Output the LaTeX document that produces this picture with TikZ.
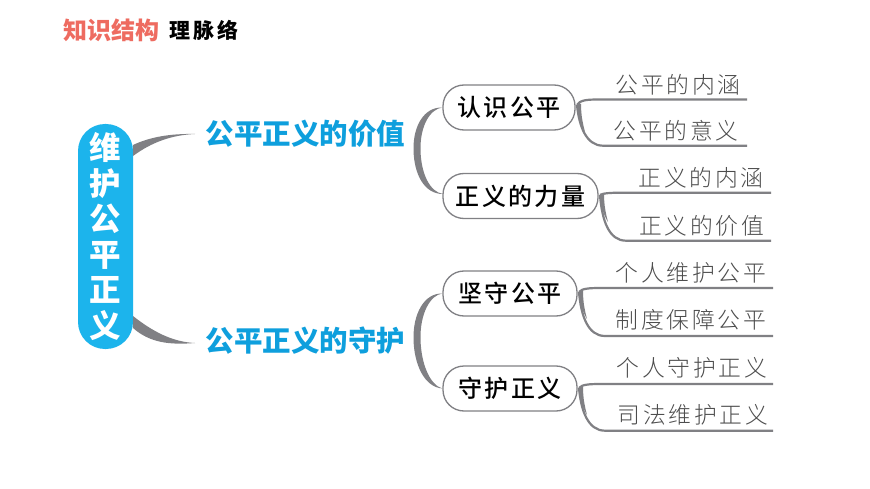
\documentclass[tikz,border=0pt]{standalone}
\usepackage{fontspec}
\newfontfamily\cjk{Noto Sans CJK SC}
\newfontfamily\cjkleaf[UprightFont={* Light},LetterSpace=12]{Noto Sans CJK SC}
\newfontfamily\cjknodeb[UprightFont={* Medium},LetterSpace=10]{Noto Sans CJK SC}
\newfontfamily\cjksub[LetterSpace=14]{Noto Sans CJK SC}
\definecolor{rootblue}{HTML}{1CB4EC}
\definecolor{headblue}{HTML}{0E9FDD}
\definecolor{branchgrey}{HTML}{808084}
\definecolor{salmon}{HTML}{EE6B60}
\tikzset{
  rootbox/.style={fill=rootblue,text=white,rounded corners=27pt,minimum width=55pt,minimum height=225pt,inner sep=0pt,align=center,font=\cjk\bfseries\fontsize{31.5}{35.6}\selectfont},
  headtext/.style={text=headblue,inner sep=0pt,font=\cjk\bfseries\fontsize{28.5}{32}\selectfont},
  topicbox/.style={draw=branchgrey,line width=1.3pt,fill=white,rounded corners=21pt,minimum height=45pt,inner sep=0pt,text=black,font=\cjknodeb\fontsize{24}{26}\selectfont},
  leaftext/.style={text=black!70,inner sep=0pt,font=\cjkleaf\fontsize{22.8}{26}\selectfont},
  taper/.style={fill=branchgrey,draw=none},
  leafline/.style={draw=branchgrey,line width=2.2pt,line cap=butt},
}
\begin{document}
\begin{tikzpicture}[x=1pt,y=-1pt]
\useasboundingbox (0,0) rectangle (870,489);
\fill[white] (0,0) rectangle (870,489);
\node[text=salmon,inner sep=0pt,font=\cjk\bfseries\fontsize{24}{28}\selectfont] (title) at (111,30) {知识结构};
\node[text=black,inner sep=0pt,font=\cjksub\bfseries\fontsize{21}{24}\selectfont] (sub) at (204,30) {理脉络};
\node[rootbox] (root) at (105.5,236.5) {维\\护\\公\\平\\正\\义};
\node[headtext] (h1) at (305.5,134) {公平正义的价值};
\node[headtext] (h2) at (305.5,341) {公平正义的守护};
\node[topicbox,minimum width=132pt] (n1) at (509,107.5) {认识公平};
\node[topicbox,minimum width=155pt] (n2) at (520.5,196) {正义的力量};
\node[topicbox,minimum width=134pt] (n3) at (510,293.5) {坚守公平};
\node[topicbox,minimum width=134pt] (n4) at (510,388.5) {守护正义};
\node[leaftext] (a1) at (678,85) {公平的内涵};
\node[leaftext] (a2) at (676,131) {公平的意义};
\node[leaftext] (b1) at (701,178) {正义的内涵};
\node[leaftext] (b2) at (701.5,226) {正义的价值};
\node[leaftext] (c1) at (691,273) {个人维护公平};
\node[leaftext] (c2) at (691,320) {制度保障公平};
\node[leaftext] (d1) at (692,368) {个人守护正义};
\node[leaftext] (d2) at (693,415) {司法维护正义};
\coordinate (a1e) at (747,99.5); \coordinate (a2e) at (747,145.7);
\coordinate (b1e) at (771,192.7); \coordinate (b2e) at (771,240.7);
\coordinate (c1e) at (773,288); \coordinate (c2e) at (773,336);
\coordinate (d1e) at (773,384); \coordinate (d2e) at (773,430.7);
\coordinate (h1w) at (195,134); \coordinate (h2w) at (195,343);
% root to heads
\fill[taper] (133,145) .. controls (150,137) and (170,133.5) .. (h1w) .. controls (172,135) and (152,142) .. (133,156) -- cycle;
\fill[taper] (133,316) .. controls (152,331) and (172,342) .. (h2w) .. controls (170,345) and (150,343) .. (133,328) -- cycle;
% heads to topics
\fill[taper] (n1.west) .. controls (424,107) and (413,126) .. (413.5,150) .. controls (414,174) and (424,194) .. (443,194) .. controls (430,192) and (421,174) .. (420.5,150) .. controls (420,126) and (430,109) .. (n1.west) -- cycle;
\fill[taper] (n3.west) .. controls (424,293) and (413,314) .. (413.5,339) .. controls (414,364) and (424,387) .. (n4.west) .. controls (430,385) and (421,364) .. (420.5,339) .. controls (420,314) and (430,295) .. (n3.west) -- cycle;
% topics to leaves
\foreach \t/\u/\v/\sx/\sy/\ty/\by in {n1/a1e/a2e/577/104/99.5/145.7,n2/b1e/b2e/600/194/192.7/240.7,n3/c1e/c2e/579/291/288/336,n4/d1e/d2e/579/387/384/430.7}{
  \draw[leafline] (\sx,\sy+1) .. controls (\sx+3,\ty+0.5) and (\sx+10,\ty) .. (\sx+22,\ty) -- (\u);
  \draw[leafline] (\sx,\sy+1) .. controls (\sx+2,\by-20) and (\sx+9,\by) .. (\sx+26,\by) -- (\v);
  \fill[taper] (\sx,\sy) .. controls (\sx+1,\sy+12) and (\sx+3,\sy+20) .. (\sx+8,\sy+28) .. controls (\sx+6,\sy+20) and (\sx+4,\sy+12) .. (\sx+4,\sy) -- cycle;
}
\end{tikzpicture}
\end{document}
